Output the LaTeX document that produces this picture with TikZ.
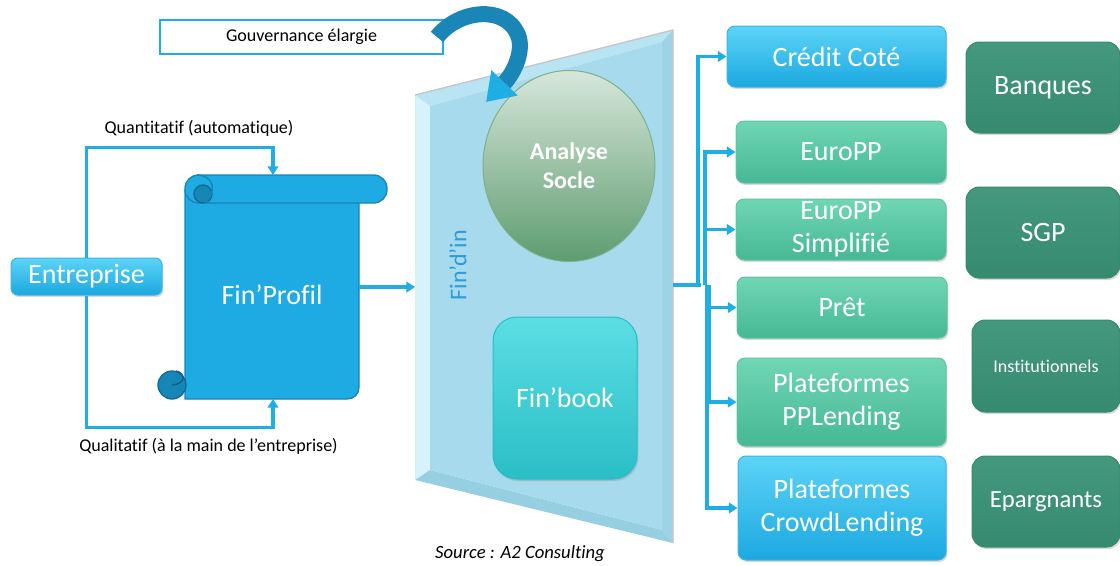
\documentclass[tikz,border=0pt]{standalone}
\usepackage{fontspec}
\setmainfont{Carlito}[Ligatures=NoCommon]
\usetikzlibrary{arrows.meta,shadows,shapes.geometric,positioning}

\definecolor{lineblue}{RGB}{31,174,227}
\definecolor{boxblue}{RGB}{28,168,224}
\definecolor{boxbluetop}{RGB}{92,212,247}
\definecolor{boxgreen}{RGB}{70,184,148}
\definecolor{boxgreentop}{RGB}{112,214,180}
\definecolor{darkgreen}{RGB}{54,138,112}
\definecolor{darkgreentop}{RGB}{68,152,126}
\definecolor{trapface}{RGB}{166,218,236}
\definecolor{trapleft}{RGB}{214,242,250}
\definecolor{traptop}{RGB}{184,228,243}
\definecolor{trapbot}{RGB}{150,206,226}
\definecolor{trapright}{RGB}{156,211,231}
\definecolor{finbook}{RGB}{43,190,198}
\definecolor{finbooktop}{RGB}{90,222,228}
\definecolor{scrollblue}{RGB}{30,170,226}
\definecolor{scrolldark}{RGB}{22,134,182}
\definecolor{findin}{RGB}{46,155,214}
\definecolor{soclelight}{RGB}{214,231,218}
\definecolor{socledark}{RGB}{94,156,112}
\definecolor{arrowdark}{RGB}{26,134,184}

\tikzset{every picture/.style={line width=0.75pt}}
\tikzset{
  conn/.style={draw=lineblue, line width=2.4pt, -{Triangle[width=8pt,length=6.5pt]}},
  wire/.style={draw=lineblue, line width=2.4pt},
  label/.style={font=\fontsize{13.5}{16}\selectfont},
  box/.style={rounded corners=6pt, text=white, align=center, inner sep=0pt,
    font=\fontsize{21}{24.5}\selectfont,
    drop shadow={shadow xshift=1pt, shadow yshift=-1.5pt, opacity=0.3}},
  bluebox/.style={box, top color=boxbluetop, bottom color=boxblue, draw=boxblue!85!white},
  greenbox/.style={box, top color=boxgreentop, bottom color=boxgreen, draw=boxgreen!85!white},
  darkbox/.style={box, rounded corners=10pt, top color=darkgreentop, bottom color=darkgreen, draw=darkgreen},
}

\begin{document}
\begin{tikzpicture}[x=0.75pt,y=0.75pt,yscale=-1,xscale=1]
	\useasboundingbox (0,0) rectangle (1120,565);

	%Shape: Trapezoid Fin'd'in
	\fill[trapleft] (415,95) -- (430,106) -- (430,470) -- (415,480) -- cycle;
	\fill[traptop] (415,95) -- (673,30) -- (662,42) -- (430,106) -- cycle;
	\fill[trapbot] (415,480) -- (430,470) -- (662,530) -- (673,543) -- cycle;
	\fill[trapright] (673,30) -- (673,543) -- (662,530) -- (662,42) -- cycle;
	\fill[trapface] (430,106) -- (662,42) -- (662,530) -- (430,470) -- cycle;
	\draw[gray!45, line width=1pt] (415,95) -- (673,30) -- (673,543);
	\coordinate (findin-w) at (415,287);
	\coordinate (findin-e) at (673,285);

	% Text Node
	\node[rotate=90, text=findin, font=\fontsize{18}{20}\selectfont] (findin) at (458,265) {Fin’d’in};

	%Shape: Ellipse Analyse Socle
	\node[ellipse, minimum width=129pt, minimum height=143.25pt, top color=soclelight, bottom color=socledark,
	  draw=socledark!80!white, text=white, align=center, font=\bfseries\fontsize{18}{21.75}\selectfont] (socle) at (569,166) {Analyse\\Socle};

	%Shape: Rounded Square Fin'book
	\node[box, rounded corners=18pt, top color=finbooktop, bottom color=finbook, draw=finbook,
	  minimum width=108pt, minimum height=121.5pt] (finbook) at (565,398) {Fin’book};

	%Shape: Box Gouvernance
	\node[draw=lineblue, fill=white, line width=1.5pt, minimum width=212.25pt, minimum height=25.5pt, label]
	  (gouv) at (301.5,37) {Gouvernance élargie};
	\coordinate (gouv-tip) at (486,102);

	%Curved Arrow
	\draw[draw=arrowdark, line width=12pt, -{Triangle[width=26pt,length=20pt,color=lineblue]}]
	  ([xshift=-5.25pt]gouv.east) .. controls (458,10) and (505,4) .. (518,35) .. controls (524,50) and (515,72) .. (gouv-tip);

	%Shape: Box Entreprise
	\node[bluebox, rounded corners=5pt, minimum width=113.25pt, minimum height=27.75pt] (ent) at (86.5,276.5) {Entreprise};

	%Shape: Scroll Fin'Profil
	\filldraw[fill=scrollblue, draw=scrolldark, line width=1pt] (185,190) -- (185,399) -- (347,399)
	  .. controls (354,399) and (359,394) .. (359,387) -- (359,190) -- cycle;
	\filldraw[fill=scrolldark, draw=scrolldark!80!black, line width=1pt] (172,385) circle (14);
	\draw[scrolldark!70!black, line width=1pt] (176,371) .. controls (186,373) and (186,384) .. (172,385);
	\filldraw[fill=scrollblue, draw=scrolldark, line width=1pt, rounded corners=10pt] (185,175) rectangle (387,203);
	\filldraw[fill=scrolldark, draw=scrolldark!80!black, line width=1pt] (203,194) circle (9);
	\draw[scrolldark, line width=1pt] (197,175) .. controls (213,175) and (218,191) .. (205,203);
	\coordinate (profil-top) at (273,175);
	\coordinate (profil-bot) at (273,399);
	\coordinate (profil-e) at (359,287);

	% Text Node
	\node[text=white, font=\fontsize{21}{24}\selectfont] (profil) at (272,295) {Fin’Profil};

	%Connectors left
	\draw[conn] (ent.north) -- ++(0,-110) -| (profil-top);
	\draw[conn] (ent.south) -- ++(0,132) -| (profil-bot);
	\draw[conn] (profil-e) -- (findin-w);

	% Text Node
	\node[label] (quanti) at (199,128) {Quantitatif (automatique)};
	% Text Node
	\node[label] (quali) at (208.5,446) {Qualitatif (à la main de l’entreprise)};

	%Shape: Boxes products
	\node[bluebox, minimum width=164.25pt, minimum height=45.75pt] (credit) at (836.5,56.5) {Crédit Coté};
	\node[greenbox, minimum width=157.5pt, minimum height=46.5pt] (europp) at (841,152) {EuroPP};
	\node[greenbox, minimum width=157.5pt, minimum height=45.75pt] (europps) at (841,229.5) {EuroPP\\Simplifié};
	\node[greenbox, minimum width=157.5pt, minimum height=45.75pt] (pret) at (842,307.5) {Prêt};
	\node[greenbox, minimum width=156.75pt, minimum height=66pt] (pplend) at (841.5,402) {Plateformes\\PPLending};
	\node[bluebox, minimum width=156pt, minimum height=78pt] (crowd) at (842,508) {Plateformes\\CrowdLending};

	%Shape: Boxes investors
	\node[darkbox, minimum width=115.5pt, minimum height=68.25pt] (banques) at (1043,87.5) {Banques};
	\node[darkbox, minimum width=115.5pt, minimum height=68.25pt] (sgp) at (1043,232.5) {SGP};
	\node[darkbox, minimum width=111pt, minimum height=69pt, font=\fontsize{13.5}{16}\selectfont] (inst) at (1046,366) {Institutionnels};
	\node[darkbox, minimum width=111pt, minimum height=68.25pt, font=\fontsize{18.5}{21}\selectfont] (epar) at (1046,501.5) {Epargnants};

	%Connectors right
	\coordinate (bus) at (701,285);
	\draw[wire] (findin-e) -- (bus);
	\draw[conn] ([xshift=-2.25pt]bus) |- (credit.west);
	\draw[conn] ([xshift=3pt]bus) |- (europp.west);
	\draw[conn] ([xshift=3pt]bus) |- (europps.west);
	\draw[conn] ([xshift=6pt]bus) |- (pret.west);
	\draw[conn] ([xshift=6pt]bus) |- (pplend.west);
	\draw[conn] ([xshift=4.5pt]bus) |- (crowd.west);

	% Text Node
	\node[font=\itshape\fontsize{14}{16}\selectfont] (source) at (520,554) {Source : A2 Consulting};

\end{tikzpicture}
\end{document}
